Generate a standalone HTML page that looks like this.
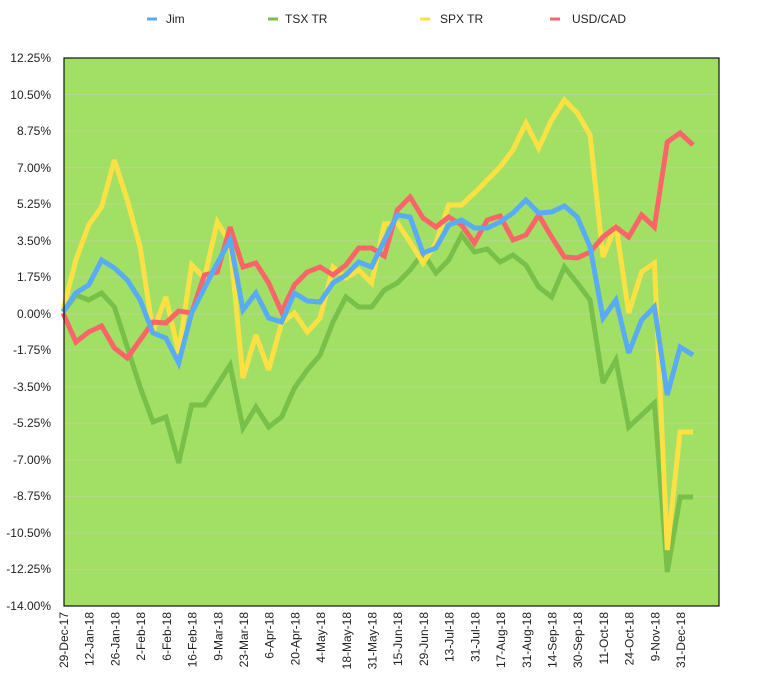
<!DOCTYPE html>
<html><head><meta charset="utf-8"><style>
html,body{margin:0;padding:0;background:#fff;}
svg text{font-family:"Liberation Sans",sans-serif;font-size:12px;fill:#222;}
</style></head><body>
<svg width="758" height="690" viewBox="0 0 758 690" xmlns="http://www.w3.org/2000/svg">
<rect x="64" y="58" width="655" height="548" fill="#a1e065"/>
<g stroke="#b9d58f" stroke-width="1">
<line x1="64" x2="719" y1="94.5" y2="94.5"/><line x1="64" x2="719" y1="131.1" y2="131.1"/>
<line x1="64" x2="719" y1="167.6" y2="167.6"/><line x1="64" x2="719" y1="204.1" y2="204.1"/>
<line x1="64" x2="719" y1="240.7" y2="240.7"/><line x1="64" x2="719" y1="277.2" y2="277.2"/>
<line x1="64" x2="719" y1="313.7" y2="313.7"/><line x1="64" x2="719" y1="350.3" y2="350.3"/>
<line x1="64" x2="719" y1="386.8" y2="386.8"/><line x1="64" x2="719" y1="423.3" y2="423.3"/>
<line x1="64" x2="719" y1="459.9" y2="459.9"/><line x1="64" x2="719" y1="496.4" y2="496.4"/>
<line x1="64" x2="719" y1="532.9" y2="532.9"/><line x1="64" x2="719" y1="569.5" y2="569.5"/>
</g>
<g fill="none" stroke-width="5" stroke-linejoin="miter" stroke-miterlimit="3">
<polyline stroke="#78c04a" points="63,312 75.9,295 88.7,300 101.6,293 114.4,307 127.3,347 140.1,387 153,422 165.9,417 178.7,463 191.6,405 204.4,405 217.3,385 230.1,365 243,428 255.9,407 268.7,427 281.6,417 294.4,388 307.3,370 320.1,355 333,322 345.9,297 358.7,307 371.6,307 384.4,290 397.3,283 410.1,270 423,253 435.9,273 448.7,260 461.6,235 474.4,252 487.3,249 500.1,262 513,255 525.9,265 538.7,287 551.6,297 564.4,267 577.3,283 590.1,300 603,383 615.9,360 628.7,427 641.6,415 654.4,403 667.3,572 680.1,497 693,497"/>
<polyline stroke="#fde043" points="63,310 75.9,260 88.7,225 101.6,207 114.4,160 127.3,200 140.1,247 153,332 165.9,297 178.7,353 191.6,265 204.4,278 217.3,222 230.1,243 243,378 255.9,335 268.7,370 281.6,323 294.4,313 307.3,332 320.1,318 333,267 345.9,278 358.7,270 371.6,283 384.4,224 397.3,223 410.1,242 423,263 435.9,243 448.7,205 461.6,205 474.4,193 487.3,180 500.1,167 513,150 525.9,123 538.7,148 551.6,120 564.4,100 577.3,113 590.1,135 603,257 615.9,225 628.7,313 641.6,272 654.4,263 667.3,550 680.1,432 693,432"/>
<polyline stroke="#fb6567" points="63,313 75.9,342 88.7,332 101.6,326 114.4,348 127.3,358 140.1,340 153,322 165.9,323 178.7,311 191.6,313 204.4,275 217.3,272 230.1,227 243,267 255.9,263 268.7,283 281.6,312 294.4,285 307.3,272 320.1,267 333,275 345.9,265 358.7,248 371.6,248 384.4,256 397.3,210 410.1,197 423,218 435.9,227 448.7,217 461.6,225 474.4,243 487.3,220 500.1,216 513,240 525.9,235 538.7,215 551.6,237 564.4,257 577.3,258 590.1,252 603,237 615.9,227 628.7,237 641.6,215 654.4,227 667.3,142 680.1,133 693,145"/>
<polyline stroke="#5aabf5" points="63,312 75.9,293 88.7,285 101.6,260 114.4,268 127.3,280 140.1,300 153,333 165.9,338 178.7,363 191.6,313 204.4,288 217.3,263 230.1,240 243,310 255.9,293 268.7,318 281.6,322 294.4,293 307.3,301 320.1,302 333,283 345.9,275 358.7,262 371.6,267 384.4,240 397.3,215 410.1,217 423,253 435.9,248 448.7,225 461.6,220 474.4,228 487.3,228 500.1,222 513,213 525.9,200 538.7,213 551.6,212 564.4,206 577.3,217 590.1,247 603,318 615.9,300 628.7,353 641.6,320 654.4,307 667.3,395 680.1,347 693,355"/>
</g>
<rect x="64" y="58" width="655" height="548" fill="none" stroke="#111" stroke-width="1.2"/>
<g text-anchor="end">
<text x="51" y="62">12.25%</text><text x="51" y="99">10.50%</text><text x="51" y="135">8.75%</text>
<text x="51" y="172">7.00%</text><text x="51" y="208">5.25%</text><text x="51" y="245">3.50%</text>
<text x="51" y="281">1.75%</text><text x="51" y="318">0.00%</text><text x="51" y="354">-1.75%</text>
<text x="51" y="391">-3.50%</text><text x="51" y="427">-5.25%</text><text x="51" y="464">-7.00%</text>
<text x="51" y="500">-8.75%</text><text x="51" y="537">-10.50%</text><text x="51" y="573">-12.25%</text>
<text x="51" y="610">-14.00%</text>
</g>
<g text-anchor="end">
<text transform="translate(68,612) rotate(-90)">29-Dec-17</text>
<text transform="translate(93.7,612) rotate(-90)">12-Jan-18</text>
<text transform="translate(119.4,612) rotate(-90)">26-Jan-18</text>
<text transform="translate(145.1,612) rotate(-90)">2-Feb-18</text>
<text transform="translate(170.8,612) rotate(-90)">6-Feb-18</text>
<text transform="translate(196.6,612) rotate(-90)">16-Feb-18</text>
<text transform="translate(222.3,612) rotate(-90)">9-Mar-18</text>
<text transform="translate(248,612) rotate(-90)">23-Mar-18</text>
<text transform="translate(273.7,612) rotate(-90)">6-Apr-18</text>
<text transform="translate(299.4,612) rotate(-90)">20-Apr-18</text>
<text transform="translate(325.1,612) rotate(-90)">4-May-18</text>
<text transform="translate(350.8,612) rotate(-90)">18-May-18</text>
<text transform="translate(376.5,612) rotate(-90)">31-May-18</text>
<text transform="translate(402.2,612) rotate(-90)">15-Jun-18</text>
<text transform="translate(427.9,612) rotate(-90)">29-Jun-18</text>
<text transform="translate(453.7,612) rotate(-90)">13-Jul-18</text>
<text transform="translate(479.4,612) rotate(-90)">31-Jul-18</text>
<text transform="translate(505.1,612) rotate(-90)">17-Aug-18</text>
<text transform="translate(530.8,612) rotate(-90)">31-Aug-18</text>
<text transform="translate(556.5,612) rotate(-90)">14-Sep-18</text>
<text transform="translate(582.2,612) rotate(-90)">30-Sep-18</text>
<text transform="translate(607.9,612) rotate(-90)">11-Oct-18</text>
<text transform="translate(633.6,612) rotate(-90)">24-Oct-18</text>
<text transform="translate(659.3,612) rotate(-90)">9-Nov-18</text>
<text transform="translate(685,612) rotate(-90)">31-Dec-18</text>
</g>
<g stroke-width="3">
<line x1="147" x2="157" y1="19" y2="19" stroke="#5aabf5"/>
<line x1="268" x2="278" y1="19" y2="19" stroke="#78c04a"/>
<line x1="420" x2="430" y1="19" y2="19" stroke="#fde043"/>
<line x1="550" x2="560" y1="19" y2="19" stroke="#fb6567"/>
</g>
<text x="166" y="23">Jim</text>
<text x="285" y="23">TSX TR</text>
<text x="440" y="23">SPX TR</text>
<text x="572" y="23">USD/CAD</text>
</svg>
</body></html>
